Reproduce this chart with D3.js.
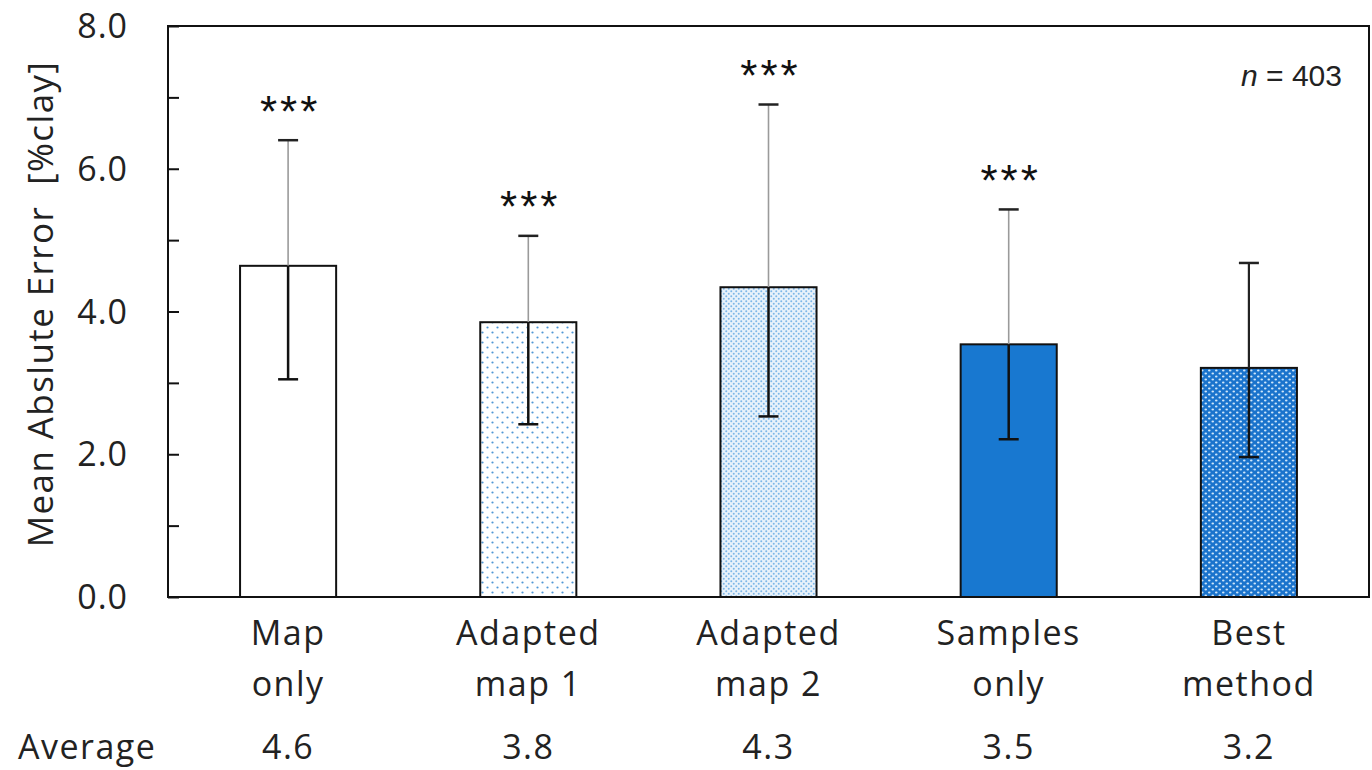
<!DOCTYPE html>
<html>
<head>
<meta charset="utf-8">
<script src="https://cdn.jsdelivr.net/npm/d3@7"></script>
<style>
  html, body { margin: 0; padding: 0; background: #fff; }
  svg { display: block; }
</style>
</head>
<body>
<svg id="chart" width="1372" height="770"></svg>
<script>
// ---- data ----
const categories = [["Map", "only"], ["Adapted", "map 1"], ["Adapted", "map 2"], ["Samples", "only"], ["Best", "method"]];
const meanValues = [4.64, 3.85, 4.34, 3.54, 3.21];
const upperValues = [6.40, 5.06, 6.90, 5.43, 4.68];
const lowerValues = [3.05, 2.42, 2.53, 2.21, 1.96];
const significance = ["***", "***", "***", "***", ""];
const averageLabels = ["4.6", "3.8", "4.3", "3.5", "3.2"];
const yTickValues = [0, 1, 2, 3, 4, 5, 6, 7, 8];
const yLabelValues = [0, 2, 4, 6, 8];
const sampleSize = "403";

// ---- styles ----
const fills = ["#ffffff", "url(#dotsSparse)", "url(#dotsDense)", "#1878d0", "url(#dotsWhite)"];
const upperWhiskerColors = ["#9a9a9a", "#9a9a9a", "#9a9a9a", "#9a9a9a", "#222"];
const font = "'Open Sans', Lato, sans-serif";

const svg = d3.select("#chart");
const margin = { left: 168, right: 3, top: 26, bottom: 173 };
const W = 1372, H = 770;

const defs = svg.append("defs");
const p1 = defs.append("pattern").attr("id", "dotsSparse").attr("patternUnits", "userSpaceOnUse")
  .attr("width", 10).attr("height", 10);
p1.append("rect").attr("width", 10).attr("height", 10).attr("fill", "#fff");
p1.append("circle").attr("cx", 2.5).attr("cy", 2.5).attr("r", 1.1).attr("fill", "#4f97d6");
p1.append("circle").attr("cx", 7.5).attr("cy", 7.5).attr("r", 1.1).attr("fill", "#4f97d6");
const p2 = defs.append("pattern").attr("id", "dotsDense").attr("patternUnits", "userSpaceOnUse")
  .attr("width", 5).attr("height", 5);
p2.append("rect").attr("width", 5).attr("height", 5).attr("fill", "#e8f2fb");
p2.append("circle").attr("cx", 1.25).attr("cy", 1.25).attr("r", 1.0).attr("fill", "#7db7e8");
p2.append("circle").attr("cx", 3.75).attr("cy", 3.75).attr("r", 1.0).attr("fill", "#7db7e8");
const p3 = defs.append("pattern").attr("id", "dotsWhite").attr("patternUnits", "userSpaceOnUse")
  .attr("width", 7).attr("height", 6);
p3.append("rect").attr("width", 7).attr("height", 6).attr("fill", "#1a73cc");
p3.append("ellipse").attr("cx", 1.75).attr("cy", 1.5).attr("rx", 1.3).attr("ry", 0.9).attr("fill", "#cfe6fa");
p3.append("ellipse").attr("cx", 5.25).attr("cy", 4.5).attr("rx", 1.3).attr("ry", 0.9).attr("fill", "#cfe6fa");

const x = d3.scaleBand().domain(d3.range(categories.length))
  .range([margin.left, W - margin.right]).paddingInner(0.6).paddingOuter(0.3);
const y = d3.scaleLinear().domain([0, 8]).range([H - margin.bottom, margin.top]);

// bars
svg.append("g").selectAll("rect").data(meanValues).join("rect")
  .attr("x", (d, i) => x(i))
  .attr("y", d => y(d))
  .attr("width", x.bandwidth())
  .attr("height", d => y(0) - y(d))
  .attr("fill", (d, i) => fills[i])
  .attr("stroke", "#111")
  .attr("stroke-width", 2);

// error bars
const capW = 20;
const eb = svg.append("g");
meanValues.forEach((m, i) => {
  const cx = x(i) + x.bandwidth() / 2;
  eb.append("line").attr("x1", cx).attr("x2", cx).attr("y1", y(m)).attr("y2", y(upperValues[i]))
    .attr("stroke", upperWhiskerColors[i]).attr("stroke-width", i === 4 ? 2.2 : 1.6);
  eb.append("line").attr("x1", cx - capW / 2).attr("x2", cx + capW / 2)
    .attr("y1", y(upperValues[i])).attr("y2", y(upperValues[i]))
    .attr("stroke", "#222").attr("stroke-width", 2.5);
  eb.append("line").attr("x1", cx).attr("x2", cx).attr("y1", y(m)).attr("y2", y(lowerValues[i]))
    .attr("stroke", "#111").attr("stroke-width", 2.5);
  eb.append("line").attr("x1", cx - capW / 2).attr("x2", cx + capW / 2)
    .attr("y1", y(lowerValues[i])).attr("y2", y(lowerValues[i]))
    .attr("stroke", "#111").attr("stroke-width", 2.5);
  if (significance[i]) {
    svg.append("text").attr("x", cx + 2).attr("y", y(upperValues[i] + 0.5) + 22)
      .attr("text-anchor", "middle").attr("font-family", "'Liberation Sans', Arial, sans-serif")
      .attr("font-size", 44).attr("fill", "#111").attr("letter-spacing", 3)
      .text(significance[i]);
  }
});

// frame
svg.append("rect").attr("x", margin.left).attr("y", margin.top)
  .attr("width", W - margin.right - margin.left).attr("height", y(0) - margin.top)
  .attr("fill", "none").attr("stroke", "#111").attr("stroke-width", 2);

// y axis with inward ticks
const yAxis = d3.axisLeft(y).tickValues(yTickValues).tickSize(-11).tickFormat("");
const gy = svg.append("g").attr("transform", `translate(${margin.left},0)`).call(yAxis);
gy.select(".domain").remove();
gy.selectAll(".tick line").attr("stroke", "#111").attr("stroke-width", 2);

svg.append("g").selectAll("text").data(yLabelValues).join("text")
  .attr("x", 128).attr("y", d => y(d) + 12)
  .attr("text-anchor", "end").attr("font-family", font).attr("font-size", 34)
  .attr("letter-spacing", 1).attr("fill", "#222")
  .text(d => d.toFixed(1));

// y axis title
svg.append("text").attr("transform", `translate(53,304) rotate(-90)`)
  .attr("text-anchor", "middle").attr("font-family", font).attr("font-size", 35)
  .attr("letter-spacing", 1.4).attr("fill", "#222")
  .style("white-space", "pre")
  .text("Mean Abslute Error  [%clay]");

// x category labels
const xl = svg.append("g");
const labelAttrs = sel => sel.attr("text-anchor", "middle").attr("font-family", font)
  .attr("font-size", 34).attr("letter-spacing", 1.5).attr("fill", "#222");
categories.forEach((c, i) => {
  const cx = x(i) + x.bandwidth() / 2;
  c.forEach((line, j) => {
    xl.append("text").attr("x", cx).attr("y", 645 + j * 51).call(labelAttrs).text(line);
  });
  xl.append("text").attr("x", cx).attr("y", 759).call(labelAttrs).text(averageLabels[i]);
});
svg.append("text").attr("x", 18).attr("y", 759).call(labelAttrs).attr("text-anchor", "start").text("Average");

// n label
const nt = svg.append("text").attr("x", 1342).attr("y", 86).attr("text-anchor", "end")
  .attr("font-family", "'Liberation Sans', Arial, sans-serif").attr("font-size", 30).attr("fill", "#222");
nt.append("tspan").attr("font-style", "italic").text("n");
nt.append("tspan").text(" = " + sampleSize);
</script>
</body>
</html>
